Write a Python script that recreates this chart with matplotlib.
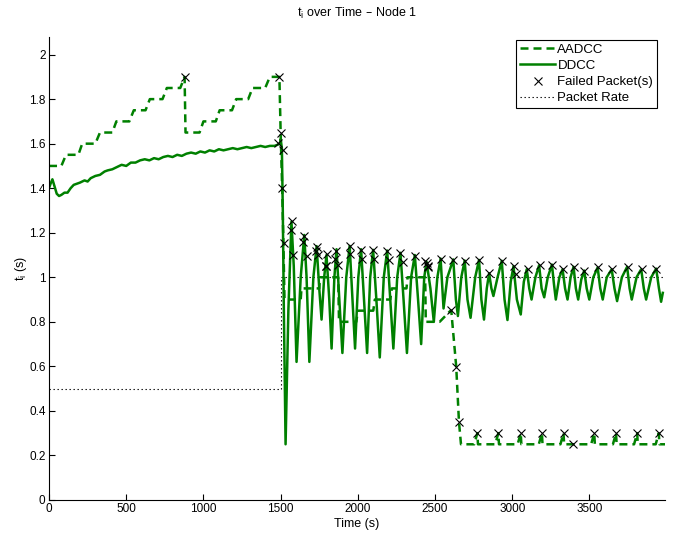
import numpy as np
import matplotlib
matplotlib.use("Agg")
from matplotlib import pyplot as plt
from matplotlib.lines import Line2D

plt.rcParams['font.family'] = ['Liberation Sans', 'DejaVu Sans']
plt.rcParams['mathtext.default'] = 'regular'

GREEN = (0, 0.5, 0)

# AADCC timer (s) vs time (s)
aadcc_t = [0, 80, 110, 190, 215, 300, 330, 410, 436, 520, 549, 625, 653, 735, 763, 850,
           878, 884, 975, 1000, 1080, 1105, 1185, 1212, 1290, 1318, 1400, 1430, 1492,
           1500, 1510, 1518, 1525, 1630, 1635, 1750, 1755, 1873, 1878, 1990, 2000, 2100,
           2110, 2210, 2220, 2315, 2322, 2436, 2440, 2530, 2600, 2605, 2637, 2655, 2668,
           2754, 2774, 2778, 2890, 2910, 2914, 3035, 3055, 3059, 3172, 3192, 3196,
           3312, 3332, 3336, 3511, 3531, 3535, 3652, 3672, 3676, 3789, 3809, 3813,
           3929, 3949, 3953, 3990]
aadcc_v = [1.5, 1.5, 1.55, 1.55, 1.6, 1.6, 1.65, 1.65, 1.7, 1.7, 1.75, 1.75, 1.8, 1.8, 1.85, 1.85,
           1.9, 1.65, 1.65, 1.7, 1.7, 1.75, 1.75, 1.8, 1.8, 1.85, 1.85, 1.9, 1.9,
           1.65, 1.4, 1.15, 0.9, 0.9, 0.95, 0.95, 1.0, 1.0, 0.8, 0.8, 0.85, 0.85,
           0.9, 0.9, 0.95, 0.95, 1.0, 1.0, 0.8, 0.8, 0.85, 0.85, 0.6, 0.35, 0.25,
           0.25, 0.3, 0.25, 0.25, 0.3, 0.25, 0.25, 0.3, 0.25, 0.25, 0.3, 0.25,
           0.25, 0.3, 0.25, 0.25, 0.3, 0.25, 0.25, 0.3, 0.25, 0.25, 0.3, 0.25,
           0.25, 0.3, 0.25, 0.25]

# DDCC timer (s) vs time (s)
ddcc_t = [0, 10, 22, 35, 50, 65, 80, 100, 120, 140, 160, 180, 200, 230, 250, 270, 300, 330,
          360, 380, 410, 440, 470, 500, 530, 560, 590, 620, 650, 680, 710, 740, 770, 800,
          830, 860, 890, 920, 950, 980, 1010, 1040, 1070, 1100, 1130, 1160, 1190, 1220,
          1250, 1280, 1310, 1340, 1370, 1400, 1430, 1460, 1480, 1495,
          1500, 1508, 1514, 1520, 1532, 1550, 1570, 1585, 1603, 1630, 1653, 1668, 1686,
          1712, 1733, 1750, 1765, 1782, 1797, 1815, 1830, 1848, 1862, 1880, 1900, 1925,
          1947, 1965, 1982, 2003, 2021, 2040, 2060, 2080, 2099, 2120, 2142, 2168, 2190,
          2210, 2230, 2255, 2276, 2296, 2318, 2345, 2369, 2390, 2410, 2430, 2445, 2470,
          2492, 2515, 2536, 2555, 2580, 2618, 2635, 2648, 2670, 2692, 2710, 2730, 2760,
          2785, 2800, 2817, 2835, 2850, 2865, 2878, 2905, 2932, 2950, 2969, 2990, 3008,
          3030, 3055, 3075, 3094, 3110, 3125, 3150, 3174, 3190, 3207, 3230, 3257, 3270,
          3282, 3305, 3326, 3342, 3358, 3378, 3397, 3412, 3427, 3447, 3466, 3482, 3499,
          3525, 3553, 3570, 3586, 3612, 3644, 3662, 3679, 3710, 3744, 3760, 3774, 3805,
          3835, 3852, 3867, 3900, 3932, 3950, 3964, 3975]
ddcc_v = [1.40, 1.42, 1.44, 1.41, 1.375, 1.365, 1.37, 1.38, 1.38, 1.40, 1.415, 1.42, 1.425,
          1.435, 1.43, 1.445, 1.455, 1.46, 1.475, 1.48, 1.485, 1.495, 1.505, 1.50, 1.515,
          1.515, 1.525, 1.53, 1.525, 1.535, 1.53, 1.54, 1.545, 1.54, 1.55, 1.545, 1.555,
          1.56, 1.555, 1.565, 1.56, 1.57, 1.565, 1.575, 1.57, 1.575, 1.58, 1.575, 1.58,
          1.585, 1.58, 1.585, 1.59, 1.585, 1.59, 1.59, 1.595, 1.60,
          1.62, 1.58, 1.30, 0.90, 0.25, 0.85, 1.25, 1.05, 0.62, 1.0, 1.19, 1.0, 0.62,
          1.0, 1.14, 0.95, 0.81, 1.0, 1.10, 0.90, 0.68, 1.0, 1.126, 0.90, 0.66, 1.0,
          1.141, 0.90, 0.68, 1.0, 1.126, 0.90, 0.66, 1.0, 1.123, 0.90, 0.64, 1.0, 1.12,
          0.90, 0.68, 1.0, 1.11, 0.90, 0.66, 1.0, 1.10, 0.90, 0.70, 1.0, 1.07, 0.95,
          0.80, 1.0, 1.084, 0.86, 1.0, 1.08, 0.90, 0.826, 1.0, 1.075, 0.90, 0.818, 1.0,
          1.078, 0.90, 0.81, 0.95, 1.018, 0.95, 0.916, 1.0, 1.074, 0.90, 0.808, 0.98, 1.05,
          0.90, 0.833, 0.98, 1.036, 0.95, 0.90, 1.0, 1.054, 0.95, 0.91, 1.0, 1.057, 0.97,
          0.90, 1.0, 1.036, 0.95, 0.90, 1.0, 1.047, 0.95, 0.90, 0.99, 1.03, 0.95, 0.90,
          1.0, 1.044, 0.95, 0.90, 1.0, 1.036, 0.95, 0.893, 1.0, 1.047, 0.95, 0.90, 1.0,
          1.036, 0.95, 0.90, 1.0, 1.039, 0.95, 0.89, 0.93]

# failed packets
fail_t = [880, 1490, 1484, 1500, 1516, 1510, 1520, 1575, 1566, 1581, 1653, 1646, 1668,
          1733, 1739, 1729, 1797, 1800, 1795, 1860, 1854, 1869, 1947, 1947, 2021, 2027,
          2099, 2107, 2190, 2200, 2276, 2293, 2369, 2445, 2452, 2438, 2453, 2536, 2601,
          2637, 2655, 2616, 2694, 2785, 2850, 2932, 3012, 3027, 3099, 3179, 3257, 3326,
          3397, 3466, 3557, 3644, 3748, 3839, 3932, 2774, 2910, 3055, 3192, 3332, 3391,
          3531, 3672, 3809, 3949]
fail_v = [1.9, 1.9, 1.604, 1.649, 1.573, 1.40, 1.152, 1.254, 1.213, 1.099, 1.186, 1.159,
          1.096, 1.138, 1.099, 1.12, 1.051, 1.104, 1.051, 1.119, 1.081, 1.054, 1.141, 1.104,
          1.123, 1.084, 1.123, 1.084, 1.119, 1.078, 1.111, 1.069, 1.096, 1.062, 1.044, 1.074,
          1.051, 1.084, 0.851, 0.598, 0.348, 1.077, 1.074, 1.078, 1.018, 1.074, 1.051, 1.014,
          1.036, 1.054, 1.057, 1.036, 1.047, 1.029, 1.044, 1.036, 1.047, 1.036, 1.039,
          0.30, 0.30, 0.30, 0.30, 0.30, 0.252, 0.30, 0.30, 0.30, 0.30]

# packet rate (s)
rate_t = [0, 1500, 1500, 3990]
rate_v = [0.5, 0.5, 1.0, 1.0]

fig = plt.figure(figsize=(6.78, 5.33), dpi=100)
ax = fig.add_axes([0.0723, 0.062, 0.9087, 0.869])

ax.plot(rate_t, rate_v, color='black', lw=0.8, linestyle=(0, (1.2, 2.4)))
ax.plot(aadcc_t, aadcc_v, color=GREEN, lw=1.8, linestyle=(0, (3.2, 2.0)))
ax.plot(ddcc_t, ddcc_v, color=GREEN, lw=1.8)
ax.plot(fail_t, fail_v, linestyle='none', marker='x', color='black', ms=6, mew=0.8)

ax.set_xlim(0, 3990)
ax.set_ylim(0, 2.08)
ax.set_xticks(np.arange(0, 4000, 500))
ax.set_yticks(np.arange(0, 2.01, 0.2))
ax.set_yticklabels(['0', '0.2', '0.4', '0.6', '0.8', '1', '1.2', '1.4', '1.6', '1.8', '2'])
ax.tick_params(direction='in', length=4, width=0.8, labelsize=8.5, pad=2.5)
for s in ['top', 'right']:
    ax.spines[s].set_visible(False)
for s in ['left', 'bottom']:
    ax.spines[s].set_linewidth(0.8)

ax.set_xlabel('Time (s)', fontsize=9, labelpad=1.5)
ax.set_ylabel('t$_i$ (s)', fontsize=9)
ax.yaxis.set_label_coords(-0.033, 0.5)
ax.set_title('t$_i$ over Time – Node 1', fontsize=9, pad=14)

handles = [
    Line2D([], [], color=GREEN, lw=1.8, linestyle=(0, (3.2, 2.0))),
    Line2D([], [], color=GREEN, lw=1.8),
    Line2D([], [], color='black', marker='x', linestyle='none', ms=6, mew=0.8),
    Line2D([], [], color='black', lw=0.8, linestyle=(0, (1.2, 2.4))),
]
labels = ['AADCC', 'DDCC', 'Failed Packet(s)', 'Packet Rate']
leg = ax.legend(handles, labels, loc='upper right', bbox_to_anchor=(0.987, 0.994),
                fontsize=9.5, fancybox=False, framealpha=1, edgecolor='black',
                handlelength=2.7, handletextpad=0.15, borderpad=0.3, labelspacing=0.3,
                borderaxespad=0)
leg.get_frame().set_linewidth(0.8)

fig.savefig('out.png', dpi=100)
